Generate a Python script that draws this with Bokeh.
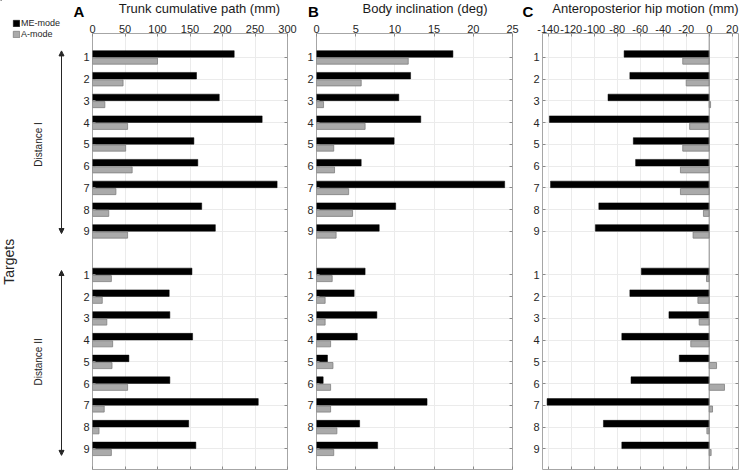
import math
from bokeh.plotting import figure
from bokeh.layouts import row, column
from bokeh.models import (Range1d, FixedTicker, Label, Arrow, NormalHead,
                          Legend, LegendItem, Span, LinearAxis)
from bokeh.embed import file_html
from bokeh.resources import INLINE

# ---------------- data ----------------
targets = [1, 2, 3, 4, 5, 6, 7, 8, 9]
distance_I_pos = [1, 2, 3, 4, 5, 6, 7, 8, 9]
distance_II_pos = [11, 12, 13, 14, 15, 16, 17, 18, 19]
positions = distance_I_pos + distance_II_pos
tick_labels = [str(t) for t in targets] + [str(t) for t in targets]
series_names = ["ME-mode", "A-mode"]
group_names = ["Distance I", "Distance II"]

trunk_me = [218, 160, 195, 261, 156, 162, 284, 168, 189,
            153, 118, 119, 154, 56, 119, 255, 148, 159]
trunk_a = [100, 47, 19, 54, 51, 61, 36, 25, 54,
           29, 15, 22, 31, 30, 54, 18, 10, 29]

incl_me = [17.4, 12.0, 10.5, 13.3, 9.9, 5.7, 24.0, 10.1, 8.0,
           6.2, 4.8, 7.7, 5.2, 1.4, 0.85, 14.1, 5.5, 7.8]
incl_a = [11.7, 5.7, 0.9, 6.2, 2.2, 2.3, 4.1, 4.6, 2.5,
          2.0, 1.1, 1.1, 1.8, 2.1, 1.8, 1.8, 2.6, 2.2]

hip_me = [-74, -69, -88, -139, -66, -64, -138, -96, -99,
          -59, -69, -35, -76, -26, -68, -141, -92, -76]
hip_a = [-23, -20, 1.2, -17, -23, -25, -25, -5, -14,
         -2.3, -9.8, -8.7, -16, 6.4, 13.3, 2.9, -2.0, 1.7]

x_ticks_A = [0, 50, 100, 150, 200, 250, 300]
x_ticks_B = [0, 5, 10, 15, 20, 25]
x_ticks_C = [-140, -120, -100, -80, -60, -40, -20, 0, 20]
x_range_A = (0, 300)
x_range_B = (0, 25)
x_range_C = (-145, 25.5)

titles = ["Trunk cumulative path (mm)", "Body inclination (deg)",
          "Anteroposterior hip motion (mm)"]
letters = ["A", "B", "C"]

# ---------------- layout constants ----------------
FONT = "Liberation Sans"
W_TOTAL, H_TOTAL = 743, 473
L_W = 72
STRIP_H = 19
ROW_H = H_TOTAL - STRIP_H
TOP = 14
BOT = 4
HF = ROW_H - TOP - BOT
Y_TOP, Y_BOT = -0.1, 19.95
PX = HF / (Y_BOT - Y_TOP)
TXT = "#262626"
TICK = "#8a8a8a"
ME_STYLE = dict(fill_color="black", line_color="black", line_width=0.5)
A_STYLE = dict(fill_color="#aaaaaa", line_color="#7f7f7f", line_width=0.8)


def mirror_axis(ticker):
    return LinearAxis(ticker=ticker, major_label_text_font_size="0px",
                      major_label_text_color=None, major_label_standoff=0,
                      major_tick_in=3, major_tick_out=0, axis_line_color=None,
                      minor_tick_line_color=None, major_tick_line_color=TICK)


def make_panel(width, bl, br, xr, xticks, me, a):
    p = figure(width=width, height=ROW_H, x_range=Range1d(*xr),
               y_range=Range1d(Y_BOT, Y_TOP), x_axis_location="above",
               output_backend="svg", toolbar_location=None,
               min_border_left=bl, min_border_right=br,
               min_border_top=TOP, min_border_bottom=BOT)
    pos_me = [y - 0.16 for y in positions]
    pos_a = [y + 0.17 for y in positions]
    p.hbar(y=pos_me, left=0, right=me, height=0.30, **ME_STYLE)
    p.hbar(y=pos_a, left=0, right=a, height=0.28, **A_STYLE)

    xt = FixedTicker(ticks=xticks)
    yt = FixedTicker(ticks=positions)
    p.xaxis.ticker = xt
    p.xgrid.ticker = xt
    p.yaxis.ticker = yt
    p.ygrid.ticker = yt
    p.xaxis.major_label_overrides = {t: str(t) for t in xticks}
    p.yaxis.major_label_overrides = {pos: lab for pos, lab in zip(positions, tick_labels)}
    for ax in (p.xaxis, p.yaxis):
        ax.axis_line_color = None
        ax.major_tick_in = 3
        ax.major_tick_out = 0
        ax.minor_tick_line_color = None
        ax.major_tick_line_color = TICK
        ax.major_label_text_font = FONT
        ax.major_label_text_font_size = "11px"
        ax.major_label_text_color = TXT
    p.xaxis.major_label_standoff = 1
    p.yaxis.major_label_standoff = 3
    p.add_layout(mirror_axis(xt), "below")
    p.add_layout(mirror_axis(yt), "right")
    p.xgrid.grid_line_color = "#ebebeb"
    p.ygrid.grid_line_color = "#ebebeb"
    p.outline_line_color = "#a6a6a6"
    p.outline_line_width = 1
    p.background_fill_color = "white"
    p.border_fill_color = "white"
    return p


def blank_figure(width, height, xr, yr):
    f = figure(width=width, height=height, x_range=Range1d(*xr), y_range=Range1d(*yr),
               output_backend="svg", toolbar_location=None,
               x_axis_type=None, y_axis_type=None,
               min_border_left=0, min_border_right=0, min_border_top=0, min_border_bottom=0)
    f.outline_line_color = None
    f.xgrid.visible = False
    f.ygrid.visible = False
    f.background_fill_color = "white"
    f.border_fill_color = "white"
    return f


# panels (page frames: A 92..287, B 316..512, C 542..738)
pA = make_panel(229, 20, 14, x_range_A, x_ticks_A, trunk_me, trunk_a)
pB = make_panel(223, 15, 12, x_range_B, x_ticks_B, incl_me, incl_a)
pC = make_panel(219, 18, 5, x_range_C, x_ticks_C, hip_me, hip_a)
pC.add_layout(Span(location=0, dimension="height", line_color=TICK, line_width=1))

# ---------------- left column (full height): legend, group arrows, axis name ----------------
L_YR = (Y_BOT + BOT / PX, Y_TOP - (STRIP_H + TOP) / PX)
L = blank_figure(L_W, H_TOTAL, (0, L_W), L_YR)
# legend swatch carriers: one bar each, placed beyond the visible range
hidden_y = [L_YR[1] - 50]
lme = L.hbar(y=hidden_y, left=[0], right=[1], height=0.3, **ME_STYLE)
la = L.hbar(y=hidden_y, left=[0], right=[1], height=0.3, **A_STYLE)
legend = Legend(items=[LegendItem(label=series_names[0], renderers=[lme]),
                       LegendItem(label=series_names[1], renderers=[la])],
                location=(12, H_TOTAL - 39), orientation="vertical",
                padding=0, margin=0, spacing=1, glyph_width=8, glyph_height=8,
                label_height=8, label_standoff=1, label_text_font=FONT,
                label_text_font_size="9px", label_text_color=TXT,
                background_fill_alpha=0, border_line_color=None)
L.add_layout(legend)

head = dict(size=5, fill_color=TXT, line_color=TXT)
ARROW_X = 61
for grp, (lo, hi) in zip((distance_I_pos, distance_II_pos), ((0.3, 0.1), (0.2, 0.3))):
    L.add_layout(Arrow(x_start=ARROW_X, y_start=grp[0] - lo, x_end=ARROW_X, y_end=grp[-1] + hi,
                       start=NormalHead(**head), end=NormalHead(**head),
                       line_color=TXT, line_width=1))
for grp, name in zip((distance_I_pos, distance_II_pos), group_names):
    L.add_layout(Label(x=38, y=grp[4], text=name, angle=math.pi / 2,
                       text_align="center", text_baseline="middle", text_font=FONT,
                       text_font_size="10px", text_color=TXT))
L.add_layout(Label(x=8, y=10.4, text="Targets", angle=math.pi / 2,
                   text_align="center", text_baseline="middle", text_font=FONT,
                   text_font_size="14px", text_color=TXT))

# ---------------- top strip over the panels: letters and axis titles ----------------
S = blank_figure(W_TOTAL - L_W, STRIP_H, (L_W, W_TOTAL), (STRIP_H, 0))
title_x = [199, 424.5, 645]
letter_x = [78.5, 313, 527.5]
for tx, t in zip(title_x, titles):
    S.add_layout(Label(x=tx, y=0.5, text=t, text_align="center", text_baseline="top",
                       text_font=FONT, text_font_size="13px", text_color="#1a1a1a"))
for lx, t in zip(letter_x, letters):
    S.add_layout(Label(x=lx, y=STRIP_H, text=t, text_align="center", text_baseline="bottom",
                       text_font=FONT, text_font_size="15px", text_font_style="bold",
                       text_color="black"))

layout = row(L, column(S, row(pA, pB, pC, spacing=0), spacing=0), spacing=0)
open("out.html", "w").write(file_html(layout, INLINE))
